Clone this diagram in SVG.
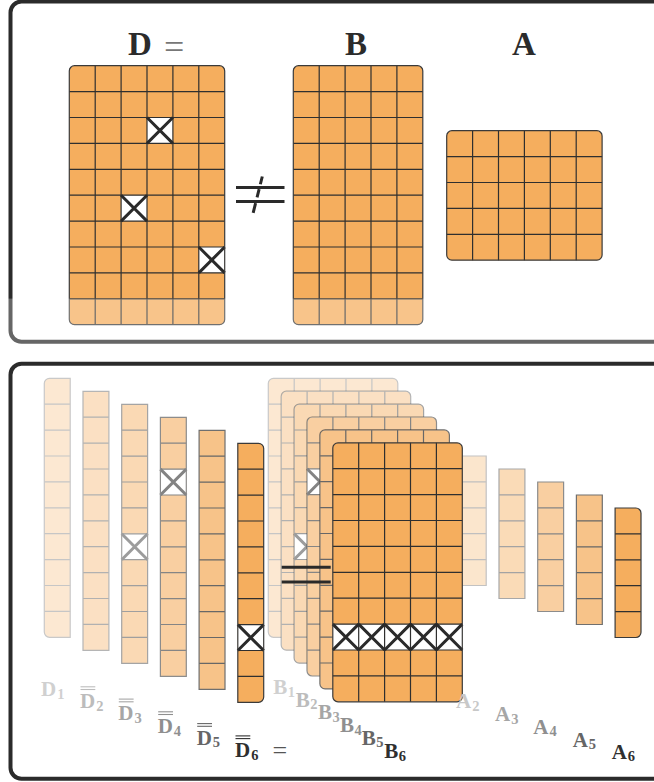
<svg xmlns="http://www.w3.org/2000/svg" xmlns:xlink="http://www.w3.org/1999/xlink" width="654" height="782" viewBox="0 0 654 782">
<style>
.frame{fill:#fff;stroke:#2b2b2b;stroke-width:4}
.cell{fill:#f5ae5e}
.grid{fill:none;stroke:#2f2f2f;stroke-width:1.2;vector-effect:non-scaling-stroke}
.outline{fill:none;stroke:#3a3a3a;stroke-width:1.2;vector-effect:non-scaling-stroke}
.xc{fill:#fff}
.xm{fill:none;stroke:#2a2a2a;stroke-width:3;vector-effect:non-scaling-stroke}
.under{fill:#fff}
.rel{stroke:#2a2a2a;stroke-width:3;fill:none}
.lbl{font-family:"Liberation Serif","Times New Roman",serif;font-weight:bold;font-size:21px}
.big{font-family:"Liberation Serif","Times New Roman",serif;font-weight:bold;font-size:33px;fill:#2b2b2b}
.sub{font-size:14.5px}
.bar{stroke-width:1.1}
</style>
<defs>
<path id="g6x10" class="grid" d="M1 0V10M2 0V10M3 0V10M4 0V10M5 0V10M0 1H6M0 2H6M0 3H6M0 4H6M0 5H6M0 6H6M0 7H6M0 8H6M0 9H6"/>
<path id="g5x10" class="grid" d="M1 0V10M2 0V10M3 0V10M4 0V10M0 1H5M0 2H5M0 3H5M0 4H5M0 5H5M0 6H5M0 7H5M0 8H5M0 9H5"/>
<path id="g6x5" class="grid" d="M1 0V5M2 0V5M3 0V5M4 0V5M5 0V5M0 1H6M0 2H6M0 3H6M0 4H6"/>
<path id="g1x10" class="grid" d="M0 1H1M0 2H1M0 3H1M0 4H1M0 5H1M0 6H1M0 7H1M0 8H1M0 9H1"/>
<path id="g1x5" class="grid" d="M0 1H1M0 2H1M0 3H1M0 4H1"/>
</defs>

<g id="panel-top">
<rect class="frame" x="10.5" y="1.5" width="700" height="340.2" rx="11"/>
</g>
<g id="panel-bottom">
<rect class="frame" x="10.5" y="363.8" width="700" height="414.9" rx="11"/>
</g>

<!-- top panel -->
<g id="label-D"><text class="big" x="128" y="55">D</text><text x="164" y="59" style="font-family:'Liberation Serif',serif;font-size:36px;fill:#777">=</text></g>
<g id="label-B"><text class="big" x="345" y="55">B</text></g>
<g id="label-A"><text class="big" x="512" y="55">A</text></g>

<g id="matrix-D" transform="translate(69.3,65.7) scale(25.9)">
<rect class="cell" width="6" height="10" rx="0.2"/>
<rect class="xc" x="3" y="2" width="1" height="1"/>
<rect class="xc" x="2" y="5" width="1" height="1"/>
<rect class="xc" x="5" y="7" width="1" height="1"/>
<use xlink:href="#g6x10"/>
<path class="xm" d="M3 2L4 3M4 2L3 3M2 5L3 6M3 5L2 6M5 7L6 8M6 7L5 8"/>
<rect class="outline" width="6" height="10" rx="0.2"/>
</g>

<g id="matrix-B" transform="translate(293.3,65.7) scale(25.9)">
<rect class="cell" width="5" height="10" rx="0.2"/>
<use xlink:href="#g5x10"/>
<rect class="outline" width="5" height="10" rx="0.2"/>
</g>

<g id="matrix-A" transform="translate(446.7,130.7) scale(25.9)">
<rect class="cell" width="6" height="5" rx="0.2"/>
<use xlink:href="#g6x5"/>
<rect class="outline" width="6" height="5" rx="0.2"/>
</g>

<g id="relations">
<line class="rel" x1="236" y1="187.5" x2="284.5" y2="187.5"/>
<line class="rel" x1="236" y1="201.5" x2="284.5" y2="201.5"/>
<line class="rel" x1="262.3" y1="176.5" x2="253" y2="213.5" stroke-dasharray="8 5 8.5 6 10"/>
</g>

<rect id="top-fade" x="0" y="298.6" width="654" height="50" fill="#fff" opacity="0.28"/>

<!-- bottom panel: D columns -->
<g id="col-D1" opacity="0.27" transform="translate(44.3,378.3) scale(25.9)">
<path class="cell" d="M0.2 0H1V10H0.2A0.2 0.2 0 0 1 0 9.8V0.2A0.2 0.2 0 0 1 0.2 0Z"/>
<use xlink:href="#g1x10"/>
<path class="outline" d="M0.2 0H1V10H0.2A0.2 0.2 0 0 1 0 9.8V0.2A0.2 0.2 0 0 1 0.2 0Z"/>
</g>
<g id="col-D2" opacity="0.37" transform="translate(83,391.3) scale(25.9)">
<rect class="cell" width="1" height="10"/>
<use xlink:href="#g1x10"/>
<rect class="outline" width="1" height="10"/>
</g>
<g id="col-D3" opacity="0.46" transform="translate(121.7,404.3) scale(25.9)">
<rect class="cell" width="1" height="10"/>
<rect class="xc" y="5" width="1" height="1"/>
<use xlink:href="#g1x10"/>
<path class="xm" d="M0 5L1 6M1 5L0 6"/>
<rect class="outline" width="1" height="10"/>
</g>
<g id="col-D4" opacity="0.58" transform="translate(160.4,417.3) scale(25.9)">
<rect class="cell" width="1" height="10"/>
<rect class="xc" y="2" width="1" height="1"/>
<use xlink:href="#g1x10"/>
<path class="xm" d="M0 2L1 3M1 2L0 3"/>
<rect class="outline" width="1" height="10"/>
</g>
<g id="col-D5" opacity="0.73" transform="translate(199.1,430.3) scale(25.9)">
<rect class="cell" width="1" height="10"/>
<use xlink:href="#g1x10"/>
<rect class="outline" width="1" height="10"/>
</g>
<g id="col-D6" transform="translate(237.8,443.3) scale(25.9)">
<path class="cell" d="M0 0H0.8A0.2 0.2 0 0 1 1 0.2V9.8A0.2 0.2 0 0 1 0.8 10H0Z"/>
<rect class="xc" y="7" width="1" height="1"/>
<use xlink:href="#g1x10"/>
<path class="xm" d="M0 7L1 8M1 7L0 8"/>
<path class="outline" d="M0 0H0.8A0.2 0.2 0 0 1 1 0.2V9.8A0.2 0.2 0 0 1 0.8 10H0Z"/>
</g>

<!-- A columns -->
<g id="col-A2" opacity="0.3" transform="translate(460.3,456) scale(25.9)">
<rect class="cell" width="1" height="5"/><use xlink:href="#g1x5"/><rect class="outline" width="1" height="5"/>
</g>
<g id="col-A3" opacity="0.44" transform="translate(499,469) scale(25.9)">
<rect class="cell" width="1" height="5"/><use xlink:href="#g1x5"/><rect class="outline" width="1" height="5"/>
</g>
<g id="col-A4" opacity="0.58" transform="translate(537.7,482) scale(25.9)">
<rect class="cell" width="1" height="5"/><use xlink:href="#g1x5"/><rect class="outline" width="1" height="5"/>
</g>
<g id="col-A5" opacity="0.73" transform="translate(576.4,495) scale(25.9)">
<rect class="cell" width="1" height="5"/><use xlink:href="#g1x5"/><rect class="outline" width="1" height="5"/>
</g>
<g id="col-A6" transform="translate(615.1,508) scale(25.9)">
<path class="cell" d="M0 0H0.8A0.2 0.2 0 0 1 1 0.2V4.8A0.2 0.2 0 0 1 0.8 5H0Z"/>
<use xlink:href="#g1x5"/>
<path class="outline" d="M0 0H0.8A0.2 0.2 0 0 1 1 0.2V4.8A0.2 0.2 0 0 1 0.8 5H0Z"/>
</g>

<!-- B cards -->
<g id="card-B1" transform="translate(268.3,378.3) scale(25.9)">
<rect class="under" width="5" height="10" rx="0.2"/>
<g opacity="0.27"><rect class="cell" width="5" height="10" rx="0.2"/><use xlink:href="#g5x10"/><rect class="outline" width="5" height="10" rx="0.2"/></g>
</g>
<g id="card-B2" transform="translate(281.2,391.2) scale(25.9)">
<rect class="under" width="5" height="10" rx="0.2"/>
<g opacity="0.37"><rect class="cell" width="5" height="10" rx="0.2"/><use xlink:href="#g5x10"/><rect class="outline" width="5" height="10" rx="0.2"/></g>
</g>
<g id="card-B3" transform="translate(294.1,404.1) scale(25.9)">
<rect class="under" width="5" height="10" rx="0.2"/>
<g opacity="0.46"><rect class="cell" width="5" height="10" rx="0.2"/><rect class="xc" y="5" width="5" height="1"/><use xlink:href="#g5x10"/>
<path class="xm" d="M0 5L1 6M1 5L0 6M1 5L2 6M2 5L1 6M2 5L3 6M3 5L2 6M3 5L4 6M4 5L3 6M4 5L5 6M5 5L4 6"/>
<rect class="outline" width="5" height="10" rx="0.2"/></g>
</g>
<g id="card-B4" transform="translate(307,417) scale(25.9)">
<rect class="under" width="5" height="10" rx="0.2"/>
<g opacity="0.58"><rect class="cell" width="5" height="10" rx="0.2"/><rect class="xc" y="2" width="5" height="1"/><use xlink:href="#g5x10"/>
<path class="xm" d="M0 2L1 3M1 2L0 3M1 2L2 3M2 2L1 3M2 2L3 3M3 2L2 3M3 2L4 3M4 2L3 3M4 2L5 3M5 2L4 3"/>
<rect class="outline" width="5" height="10" rx="0.2"/></g>
</g>
<g id="card-B5" transform="translate(319.9,429.9) scale(25.9)">
<rect class="under" width="5" height="10" rx="0.2"/>
<g opacity="0.73"><rect class="cell" width="5" height="10" rx="0.2"/><use xlink:href="#g5x10"/><rect class="outline" width="5" height="10" rx="0.2"/></g>
</g>
<g id="card-B6" transform="translate(332.8,442.8) scale(25.9)">
<rect class="cell" width="5" height="10" rx="0.2"/>
<rect class="xc" y="7" width="5" height="1"/>
<use xlink:href="#g5x10"/>
<path class="xm" d="M0 7L1 8M1 7L0 8M1 7L2 8M2 7L1 8M2 7L3 8M3 7L2 8M3 7L4 8M4 7L3 8M4 7L5 8M5 7L4 8"/>
<rect class="outline" width="5" height="10" rx="0.2"/>
</g>

<g id="equal-bottom">
<line class="rel" x1="281.7" y1="567.3" x2="330.7" y2="567.3"/>
<line class="rel" x1="281.7" y1="582" x2="330.7" y2="582"/>
</g>

<!-- labels -->
<g id="labels-D">
<text class="lbl" x="41" y="696" fill="#d0d0d0">D<tspan class="sub" dx="1" dy="2.5">1</tspan></text>
<g stroke="#bcbcbc"><line class="bar" x1="80.5" y1="686.8" x2="95.3" y2="686.8"/><line class="bar" x1="80.5" y1="689.5" x2="95.3" y2="689.5"/></g>
<text class="lbl" x="80" y="708" fill="#bcbcbc">D<tspan class="sub" dx="1" dy="2.5">2</tspan></text>
<g stroke="#a6a6a6"><line class="bar" x1="118.8" y1="699.1" x2="133.6" y2="699.1"/><line class="bar" x1="118.8" y1="701.8" x2="133.6" y2="701.8"/></g>
<text class="lbl" x="118.3" y="720.3" fill="#a6a6a6">D<tspan class="sub" dx="1" dy="2.5">3</tspan></text>
<g stroke="#8f8f8f"><line class="bar" x1="158.2" y1="711.8" x2="173" y2="711.8"/><line class="bar" x1="158.2" y1="714.5" x2="173" y2="714.5"/></g>
<text class="lbl" x="157.7" y="733" fill="#8f8f8f">D<tspan class="sub" dx="1" dy="2.5">4</tspan></text>
<g stroke="#666"><line class="bar" x1="197.2" y1="723.6" x2="212" y2="723.6"/><line class="bar" x1="197.2" y1="726.3" x2="212" y2="726.3"/></g>
<text class="lbl" x="196.7" y="744.8" fill="#666">D<tspan class="sub" dx="1" dy="2.5">5</tspan></text>
<g stroke="#2f2f2f"><line class="bar" x1="235.5" y1="735.9" x2="250.3" y2="735.9"/><line class="bar" x1="235.5" y1="738.6" x2="250.3" y2="738.6"/></g>
<text class="lbl" x="235" y="757.3" fill="#2f2f2f">D<tspan class="sub" dx="1" dy="2.5">6</tspan></text>
<text x="272.5" y="759" style="font-family:'Liberation Serif',serif;font-size:26px;fill:#555">=</text>
</g>
<g id="labels-B">
<text class="lbl" x="273.3" y="694" fill="#d0d0d0">B<tspan class="sub" dx="0.5" dy="2.5">1</tspan></text>
<text class="lbl" x="295.7" y="706.7" fill="#bcbcbc">B<tspan class="sub" dx="0.5" dy="2.5">2</tspan></text>
<text class="lbl" x="318" y="719.3" fill="#a6a6a6">B<tspan class="sub" dx="0.5" dy="2.5">3</tspan></text>
<text class="lbl" x="340" y="732" fill="#8f8f8f">B<tspan class="sub" dx="0.5" dy="2.5">4</tspan></text>
<text class="lbl" x="361.7" y="744.7" fill="#666">B<tspan class="sub" dx="0.5" dy="2.5">5</tspan></text>
<text class="lbl" x="384.3" y="758.3" fill="#2f2f2f">B<tspan class="sub" dx="0.5" dy="2.5">6</tspan></text>
</g>
<g id="labels-A">
<text class="lbl" x="456" y="708.3" fill="#c8c8c8">A<tspan class="sub" dx="1" dy="2.5">2</tspan></text>
<text class="lbl" x="495" y="721" fill="#a6a6a6">A<tspan class="sub" dx="1" dy="2.5">3</tspan></text>
<text class="lbl" x="533.3" y="733.8" fill="#8f8f8f">A<tspan class="sub" dx="1" dy="2.5">4</tspan></text>
<text class="lbl" x="572.7" y="746.5" fill="#666">A<tspan class="sub" dx="1" dy="2.5">5</tspan></text>
<text class="lbl" x="611.7" y="758.5" fill="#2f2f2f">A<tspan class="sub" dx="1" dy="2.5">6</tspan></text>
</g>
</svg>
